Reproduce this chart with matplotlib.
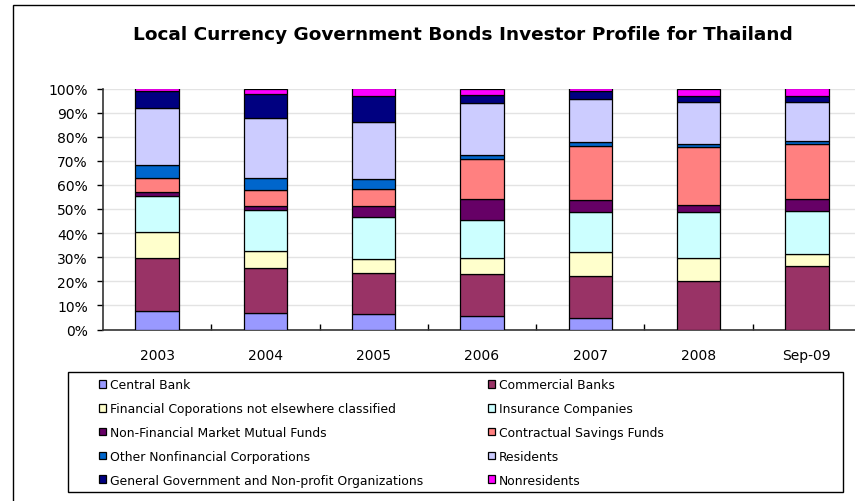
import numpy as np
import matplotlib.pyplot as plt
from matplotlib.patches import Rectangle
from matplotlib.ticker import PercentFormatter

plt.rcParams['font.family'] = ['DejaVu Sans']

years = ['2003', '2004', '2005', '2006', '2007', '2008', 'Sep-09']

investors = [
    'Central Bank',
    'Commercial Banks',
    'Financial Coporations not elsewhere classified',
    'Insurance Companies',
    'Non-Financial Market Mutual Funds',
    'Contractual Savings Funds',
    'Other Nonfinancial Corporations',
    'Residents',
    'General Government and Non-profit Organizations',
    'Nonresidents',
]

# shares in percent, one list per investor group (2003 ... Sep-09)
central_bank = [7.6, 7.0, 6.5, 5.7, 4.6, 0.0, 0.0]
commercial_banks = [22.1, 18.6, 16.8, 17.4, 17.4, 20.0, 26.5]
financial_corps = [10.6, 7.1, 5.8, 6.6, 10.2, 9.7, 4.7]
insurance = [14.9, 16.9, 17.4, 15.7, 16.4, 18.9, 18.0]
mutual_funds = [1.7, 1.5, 4.7, 8.7, 5.1, 3.2, 5.1]
contractual_savings = [5.9, 6.8, 7.1, 16.5, 22.5, 23.9, 22.6]
other_nonfin = [5.3, 5.1, 4.3, 1.6, 1.8, 1.2, 1.4]
residents = [24.0, 24.6, 23.4, 21.6, 17.7, 17.3, 15.9]
general_gov = [6.7, 10.2, 10.8, 3.6, 3.2, 2.8, 2.8]
nonresidents = [1.2, 2.2, 3.2, 2.6, 1.1, 3.0, 3.0]

series = [central_bank, commercial_banks, financial_corps, insurance,
          mutual_funds, contractual_savings, other_nonfin, residents,
          general_gov, nonresidents]

colors = ['#9999FF', '#993366', '#FFFFCC', '#CCFFFF', '#660066',
          '#FF8080', '#0066CC', '#CCCCFF', '#000080', '#FF00FF']

W, H = 855, 502
fig = plt.figure(figsize=(W / 100, H / 100), dpi=100)

# outer chart frame (runs off the right and bottom edges)
fig.add_artist(Rectangle((13 / W, -0.1), 1.2, 1 - 6 / H + 0.1,
                         transform=fig.transFigure, fill=False,
                         edgecolor='black', linewidth=1))

left, right, top, bottom = 103, 861, 89.5, 330.5
ax = fig.add_axes([left / W, 1 - bottom / H, (right - left) / W, (bottom - top) / H])

x = np.arange(len(years))
base = np.zeros(len(years))
bars = []
for vals, c, name in zip(series, colors, investors):
    vals = np.array(vals)
    b = ax.bar(x, vals, 0.4, bottom=base, color=c, edgecolor='black',
               linewidth=0.9, label=name, zorder=3)
    bars.append(b)
    base += vals

ax.set_xlim(-0.5, len(years) - 0.5)
ax.set_ylim(0, 100)
ax.set_yticks(np.arange(0, 101, 10))
ax.yaxis.set_major_formatter(PercentFormatter(decimals=0))
ax.set_xticks(x)
ax.set_xticklabels(years)
ax.set_xticks(np.arange(0.5, len(years) - 0.5, 1), minor=True)
ax.tick_params(axis='x', which='major', length=0, pad=13, labelsize=10)
ax.tick_params(axis='x', which='minor', direction='in', length=4, width=1)
ax.tick_params(axis='y', direction='out', length=4, width=1, pad=7, labelsize=10)
ax.grid(axis='y', color='#E3E3E3', linewidth=1, zorder=0)
for s in ['top', 'right']:
    ax.spines[s].set_visible(False)
for s in ['left', 'bottom']:
    ax.spines[s].set_color('#333333')
    ax.spines[s].set_linewidth(1.2)

fig.text(133 / W, 1 - 40 / H,
         'Local Currency Government Bonds Investor Profile for Thailand',
         ha='left', va='baseline', fontsize=13.3, fontweight='bold')

# legend: one frame, two columns filled row by row
lx0, lx1, ly0, ly1 = 68, 843, 373, 493
fig.add_artist(Rectangle((lx0 / W, 1 - ly1 / H), (lx1 - lx0) / W, (ly1 - ly0) / H,
                         transform=fig.transFigure, fill=False,
                         edgecolor='black', linewidth=1))
opts = dict(loc='upper left', frameon=False, fontsize=8.9, handlelength=0.55,
            handleheight=0.55, handletextpad=0.3, labelspacing=0.87,
            borderaxespad=0, borderpad=0)
col1 = [0, 2, 4, 6, 8]
col2 = [1, 3, 5, 7, 9]
fig.legend([bars[i] for i in col1], [investors[i] for i in col1],
           bbox_to_anchor=(99 / W, 1 - 379.5 / H), **opts)
fig.legend([bars[i] for i in col2], [investors[i] for i in col2],
           bbox_to_anchor=(488 / W, 1 - 379.5 / H), **opts)

fig.savefig('out.png', dpi=100)
